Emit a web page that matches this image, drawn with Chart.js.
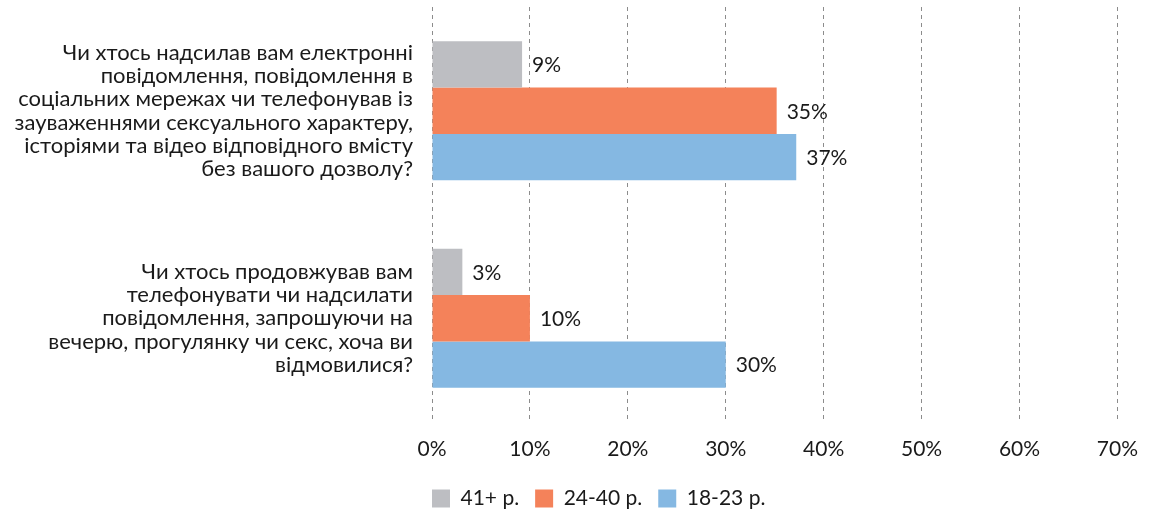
<!DOCTYPE html>
<html>
<head>
<meta charset="utf-8">
<script src="https://cdn.jsdelivr.net/npm/chart.js@4"></script>
<style>
  html, body { margin: 0; padding: 0; background: #fff; }
  #wrap { width: 1153px; height: 513px; position: relative; }
</style>
</head>
<body>
<div id="wrap"><canvas id="chart"></canvas></div>
<script>
const categories = [
  ["Чи хтось надсилав вам електронні", "повідомлення, повідомлення в", "соціальних мережах чи телефонував із", "зауваженнями сексуального характеру,", "історіями та відео відповідного вмісту", "без вашого дозволу?"],
  ["Чи хтось продовжував вам", "телефонувати чи надсилати", "повідомлення, запрошуючи на", "вечерю, прогулянку чи секс, хоча ви", "відмовилися?"],
];
const seriesNames = ["41+ р.", "24-40 р.", "18-23 р."];
const values41 = [9.2, 3.1];
const values24 = [35.2, 10.0];
const values18 = [37.2, 30.0];
const xTicks = [0, 10, 20, 30, 40, 50, 60, 70];

const FONT = "Lato, 'Open Sans', sans-serif";
const TEXT = "#1a1a1a";

// value labels at the end of each bar
const barLabels = {
  id: "barLabels",
  afterDatasetsDraw(chart) {
    const ctx = chart.ctx;
    ctx.save();
    ctx.font = "21px " + FONT;
    ctx.fillStyle = TEXT;
    ctx.textAlign = "left";
    ctx.textBaseline = "middle";
    chart.data.datasets.forEach((ds, i) => {
      chart.getDatasetMeta(i).data.forEach((bar, j) => {
        ctx.fillText(Math.round(ds.data[j]) + "%", bar.x + 10, bar.y + 1);
      });
    });
    ctx.restore();
  },
};

// legend sits under the plot, starting at the 0% line
const legendShift = {
  id: "legendShift",
  afterLayout(chart) {
    const lg = chart.legend;
    if (!lg) return;
    const w = lg.right - lg.left;
    lg.left = chart.chartArea.left - 16;
    lg.right = lg.left + w;
    lg.top += 6;
    lg.bottom += 6;
  },
};

new Chart(document.getElementById("chart"), {
  type: "bar",
  data: {
    labels: categories,
    datasets: [
      { label: seriesNames[0], data: values41, backgroundColor: "#bdbec2" },
      { label: seriesNames[1], data: values24, backgroundColor: "#f4825a" },
      { label: seriesNames[2], data: values18, backgroundColor: "#85b8e2" },
    ],
  },
  options: {
    indexAxis: "y",
    responsive: true,
    maintainAspectRatio: false,
    animation: false,
    datasets: { bar: { categoryPercentage: 0.67, barPercentage: 1.0, borderWidth: 0 } },
    layout: { padding: { top: 7, right: 34, left: 0, bottom: 0 } },
    plugins: {
      legend: {
        position: "bottom",
        align: "start",
        labels: {
          boxWidth: 18,
          boxHeight: 18,
          padding: 16,
          color: TEXT,
          font: { family: FONT, size: 21 },
        },
      },
      tooltip: { enabled: false },
    },
    scales: {
      x: {
        min: 0,
        max: 70,
        afterBuildTicks: (s) => { s.ticks = xTicks.map((v) => ({ value: v })); },
        afterFit: (s) => { s.height = 44; },
        grid: { color: "#8c8c8c", drawTicks: false },
        border: { display: false, dash: [4, 4] },
        ticks: {
          padding: 15,
          color: TEXT,
          font: { family: FONT, size: 21 },
          callback: (v) => v + "%",
        },
      },
      y: {
        afterFit: (s) => {
          s.width = 432;
          s.paddingTop = 0;
          s.paddingBottom = 0;
        },
        grid: { display: false, drawTicks: false },
        border: { display: false },
        ticks: {
          padding: 19,
          color: TEXT,
          font: { family: FONT, size: 22, lineHeight: 1.06 },
        },
      },
    },
  },
  plugins: [barLabels, legendShift],
});
</script>
</body>
</html>
